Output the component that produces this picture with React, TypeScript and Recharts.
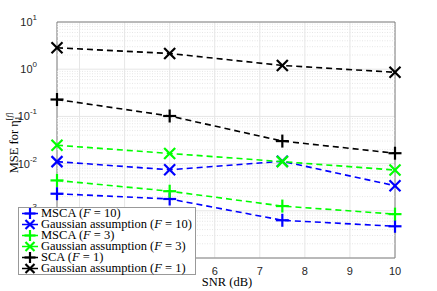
import { LineChart, Line, XAxis, YAxis, CartesianGrid, ReferenceLine, ReferenceArea } from 'recharts';

const snr = [2.5, 5, 7.5, 10];
const msca10 = [0.0023, 0.00178, 0.00063, 0.00047];
const gauss10 = [0.011, 0.0074, 0.0112, 0.0034];
const msca3 = [0.0044, 0.0026, 0.00126, 0.00085];
const gauss3 = [0.0245, 0.0164, 0.011, 0.0073];
const sca1 = [0.228, 0.102, 0.03, 0.0166];
const gauss1 = [2.84, 2.15, 1.2, 0.86];

const xTicks = [3, 4, 5, 6, 7, 8, 9, 10];
const yTicks = [1e-4, 1e-3, 1e-2, 1e-1, 1, 10];
const minorTicks = yTicks.slice(0, -1).flatMap((d) => [2, 3, 4, 5, 6, 7, 8, 9].map((m) => d * m));

const series = [
	{ key: 'msca10', name: 'MSCA', f: '10', color: '#0000ff', marker: 'plus', values: msca10 },
	{ key: 'gauss10', name: 'Gaussian assumption', f: '10', color: '#0000ff', marker: 'cross', values: gauss10 },
	{ key: 'msca3', name: 'MSCA', f: '3', color: '#00ff00', marker: 'plus', values: msca3 },
	{ key: 'gauss3', name: 'Gaussian assumption', f: '3', color: '#00ff00', marker: 'cross', values: gauss3 },
	{ key: 'sca1', name: 'SCA', f: '1', color: '#000000', marker: 'plus', values: sca1 },
	{ key: 'gauss1', name: 'Gaussian assumption', f: '1', color: '#000000', marker: 'cross', values: gauss1 }
];

const data = snr.map((s, i) => {
	const row: any = { snr: s };
	series.forEach((se) => (row[se.key] = se.values[i]));
	return row;
});

const serif = '"Liberation Serif", "DejaVu Serif", serif';
const sans = '"Liberation Sans", Arial, sans-serif';

function Marker({ cx, cy, color, type, r = 5.5 }: any) {
	if (cx == null || cy == null) return null;
	if (type === 'plus') {
		return (
			<g stroke={color} strokeWidth={2.2}>
				<line x1={cx - r - 1} y1={cy} x2={cx + r + 1} y2={cy} />
				<line x1={cx} y1={cy - r - 1} x2={cx} y2={cy + r + 1} />
			</g>
		);
	}
	return (
		<g stroke={color} strokeWidth={2.2}>
			<line x1={cx - r} y1={cy - r} x2={cx + r} y2={cy + r} />
			<line x1={cx - r} y1={cy + r} x2={cx + r} y2={cy - r} />
		</g>
	);
}

// labels under the legend are hidden, as in the original figure
function XTick({ x, y, payload }: any) {
	if (payload.value < 6) return null;
	return (
		<text x={x} y={y + 9} textAnchor="middle" fontFamily={sans} fontSize={11} fill="#262626">
			{payload.value}
		</text>
	);
}

function YTick({ x, y, payload }: any) {
	const e = Math.round(Math.log10(payload.value));
	if (e < -3) return null;
	return (
		<text x={x - 12} y={y + 4} textAnchor="end" fontFamily={sans} fontSize={11} fill="#262626">
			10
			<tspan dy={-6} fontSize={8}>
				{e}
			</tspan>
		</text>
	);
}

function LegendBox() {
	return (
		<div
			style={{
				position: 'absolute',
				left: 18,
				top: 207,
				background: '#fff',
				border: '1px solid #999',
				padding: '0px 3px 0px 1px',
				fontFamily: serif,
				fontSize: 12.5,
				lineHeight: '11px',
				color: '#000',
				whiteSpace: 'nowrap'
			}}
		>
			{series.map((s) => (
				<div key={s.key} style={{ display: 'flex', alignItems: 'center', height: 11 }}>
					<svg width={20} height={11} style={{ marginRight: 1 }}>
						<line x1={2} y1={5.5} x2={18} y2={5.5} stroke={s.color} strokeWidth={1.5} />
						<Marker cx={10} cy={5.5} color={s.color} type={s.marker} r={4.5} />
					</svg>
					<span>
						{s.name} (<i>F</i> = {s.f})
					</span>
				</div>
			))}
		</div>
	);
}

export default function App() {
	return (
		<div style={{ position: 'absolute', left: 0, top: 0, width: 437, height: 291, background: '#fff' }}>
			<LineChart width={437} height={291} data={data} margin={{ top: 22, right: 42, left: 17, bottom: 0 }}>
				<CartesianGrid stroke="#e6e6e6" strokeWidth={1} />
				{minorTicks.map((v) => (
					<ReferenceLine key={v} y={v} stroke="#e6e6e6" strokeDasharray="1 1.5" ifOverflow="hidden" />
				))}
				<ReferenceArea x1={2.5} x2={10} y1={1e-4} y2={10} fill="none" stroke="#808080" strokeWidth={1} />
				<XAxis
					dataKey="snr"
					type="number"
					domain={[2.5, 10]}
					ticks={xTicks}
					height={33}
					axisLine={false}
					tickLine={false}
					tick={<XTick />}
					label={{
						content: () => (
							<text x={227} y={286} textAnchor="middle" fontFamily={serif} fontSize={12.5} fill="#000">
								SNR (dB)
							</text>
						)
					}}
				/>
				<YAxis
					type="number"
					scale="log"
					domain={[1e-4, 10]}
					ticks={yTicks}
					width={40}
					axisLine={false}
					tickLine={false}
					tick={<YTick />}
					allowDataOverflow
					label={{
						content: () => (
							<text
								transform="translate(18,143) rotate(-90)"
								textAnchor="middle"
								fontFamily={serif}
								fontSize={12.5}
								fill="#000"
							>
								MSE for η
								<tspan dy={3} fontSize={8}>
									1
								</tspan>
								<tspan dy={-9} dx={-4} fontSize={8}>
									[<tspan fontStyle="italic">f</tspan>]
								</tspan>
							</text>
						)
					}}
				/>
				{series.map((s) => (
					<Line
						key={s.key}
						dataKey={s.key}
						stroke={s.color}
						strokeWidth={1.6}
						strokeDasharray="6 4"
						isAnimationActive={false}
						dot={(p: any) => <Marker key={s.key + p.index} cx={p.cx} cy={p.cy} color={s.color} type={s.marker} />}
						activeDot={false}
					/>
				))}
			</LineChart>
			<LegendBox />
		</div>
	);
}
